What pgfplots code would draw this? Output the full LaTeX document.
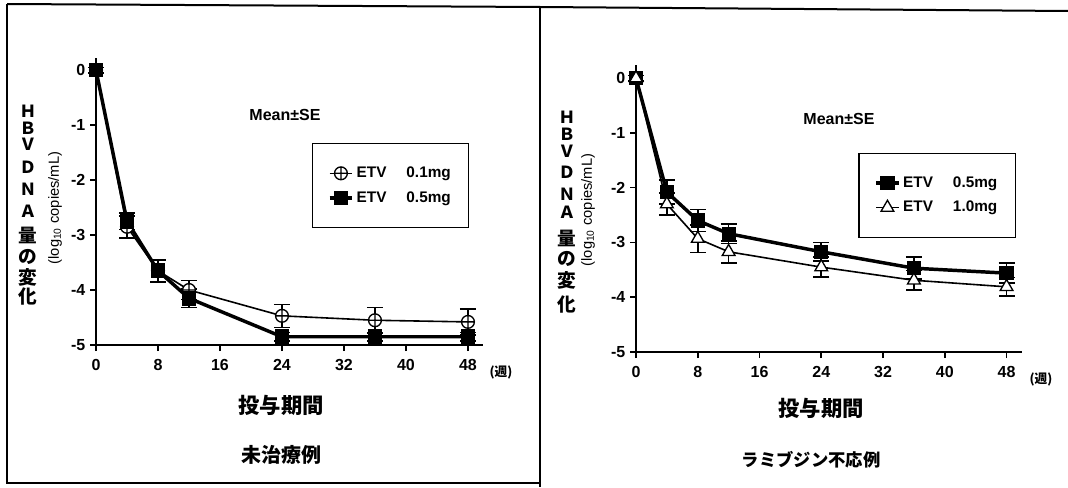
\documentclass[border=0pt]{standalone}
\usepackage{fontspec}
\setmainfont{Liberation Sans}
\newfontfamily\jp{Noto Sans CJK JP}
\usepackage{pgfplots}
\usepackage{pgfplotstable}
\pgfplotsset{compat=1.18}

\pgfplotstableread{
x y e
0 0 0.05
4 -2.85 0.20
8 -3.65 0.20
12 -4.00 0.17
24 -4.47 0.21
36 -4.55 0.23
48 -4.58 0.24
}\leftA
\pgfplotstableread{
x y e
0 0 0.05
4 -2.75 0.15
8 -3.65 0.20
12 -4.15 0.17
24 -4.85 0.08
36 -4.85 0.08
48 -4.85 0.08
}\leftB
\pgfplotstableread{
x y e
0 0 0.05
4 -2.08 0.22
8 -2.60 0.20
12 -2.84 0.18
24 -3.17 0.17
36 -3.47 0.20
48 -3.56 0.18
}\rightA
\pgfplotstableread{
x y e
0 0 0.05
4 -2.30 0.20
8 -2.93 0.25
12 -3.17 0.20
24 -3.45 0.18
36 -3.69 0.18
48 -3.81 0.17
}\rightB

\pgfplotsset{
  panel/.style={
    scale only axis, clip=false,
    xmin=0, xmax=50, ymin=-5,
    axis x line*=bottom, axis y line*=left,
    axis line style={line width=1.5pt},
    xtick={0,8,...,48}, ytick={-5,-4,...,0},
    tick align=outside, major tick length=4.5pt,
    tick style={line width=1.2pt, black},
    tick label style={font=\fontsize{12}{14}\selectfont\bfseries},
    xticklabel style={yshift=-3pt},
    /pgf/number format/assume math mode=true,
    legend cell align=left,
    legend style={draw=black, line width=1pt, inner xsep=11.5pt, inner ysep=15.5pt,
      row sep=5pt, font=\fontsize{11.5}{13}\selectfont\bfseries, anchor=north west},
    error bars/y dir=both, error bars/y explicit,
    error bars/error mark options={rotate=90, mark size=6pt, line width=1.2pt},
    error bars/error bar style={line width=1.2pt},
  },
  thinser/.style={black, line width=1.2pt},
  thickser/.style={black, line width=2.6pt},
}

\begin{document}
\begin{tikzpicture}[x=0.75pt, y=0.75pt]
\useasboundingbox (0,0) rectangle (1068,487);
% frame
\draw[line width=1.5pt] (7,483) -- (7,4) -- (540,4);
\draw[line width=1.5pt] (7,483) -- (540,480) -- (1068,476);
\draw[line width=1.5pt] (540,480) -- (540,0);

% ---------- left panel
\begin{axis}[panel, at={(72pt,106.5pt)}, anchor=south west,
  width=290.6pt, height=215.25pt, ymax=0.22,
  legend style={at={(0.557,0.704)}}]
\addplot[thinser, mark=oplus*, mark size=4.8pt, mark options={fill=white, line width=1pt}]
  table[x=x, y=y, y error=e] {\leftA};
\addlegendentry{ETV\hspace{1.3em}0.1mg}
\addplot[thickser, mark=square*, mark size=5pt, mark options={fill=black, line width=1pt}]
  table[x=x, y=y, y error=e] {\leftB};
\addlegendentry{ETV\hspace{1.3em}0.5mg}
\end{axis}

% ---------- right panel
\begin{axis}[panel, at={(477pt,101.25pt)}, anchor=south west,
  width=289.5pt, height=215.25pt, ymax=0.24,
  legend style={at={(0.576,0.695)}}]
\addplot[thickser, mark=square*, mark size=4.8pt, mark options={fill=black, line width=1pt}]
  table[x=x, y=y, y error=e] {\rightA};
\addlegendentry{ETV\hspace{1.3em}0.5mg}
\addplot[thinser, mark=triangle*, mark size=5.5pt, mark options={fill=white, line width=1pt}]
  table[x=x, y=y, y error=e] {\rightB};
\addlegendentry{ETV\hspace{1.3em}1.0mg}
\end{axis}

% y labels (stacked)
\foreach \c/\yy in {Ｈ/111,Ｂ/128,Ｖ/144,Ｄ/167,Ｎ/189,Ａ/211}
  \node[inner sep=0pt, font=\jp\fontsize{12.5}{13}\selectfont\bfseries] at (28,487-\yy) {\c};
\foreach \c/\yy in {量/235,の/257,変/277,化/296}
  \node[inner sep=0pt, font=\jp\fontsize{14}{14}\selectfont\bfseries] at (28,487-\yy) {\c};
\foreach \c/\yy in {Ｈ/117,Ｂ/134,Ｖ/151,Ｄ/172,Ｎ/194,Ａ/212}
  \node[inner sep=0pt, font=\jp\fontsize{12.5}{13}\selectfont\bfseries] at (567,487-\yy) {\c};
\foreach \c/\yy in {量/238,の/259,変/280,化/304}
  \node[inner sep=0pt, font=\jp\fontsize{14}{14}\selectfont\bfseries] at (567,487-\yy) {\c};
\node[rotate=90, font=\fontsize{11}{12}\selectfont] at (55,279) {(log\textsubscript{10} copies/mL)};
\node[rotate=90, font=\fontsize{11}{12}\selectfont] at (588,277) {(log\textsubscript{10} copies/mL)};

% Mean ± SE
\node[font=\fontsize{12}{14}\selectfont\bfseries] at (285,372) {Mean±SE};
\node[font=\fontsize{12}{14}\selectfont\bfseries] at (839,368) {Mean±SE};

% (週)
\node[font=\jp\fontsize{9.5}{11}\selectfont\bfseries] at (501,115) {(週)};
\node[font=\jp\fontsize{9.5}{11}\selectfont\bfseries] at (1041,108) {(週)};

% x labels and subtitles
\node[font=\jp\fontsize{16}{18}\selectfont\bfseries] at (281,82) {投与期間};
\node[font=\jp\fontsize{16}{18}\selectfont\bfseries] at (821,79) {投与期間};
\node[font=\jp\fontsize{15}{17}\selectfont\bfseries] at (281,32) {未治療例};
\node[font=\jp\fontsize{13}{15}\selectfont\bfseries] at (811,27) {ラミブジン不応例};
\end{tikzpicture}
\end{document}
